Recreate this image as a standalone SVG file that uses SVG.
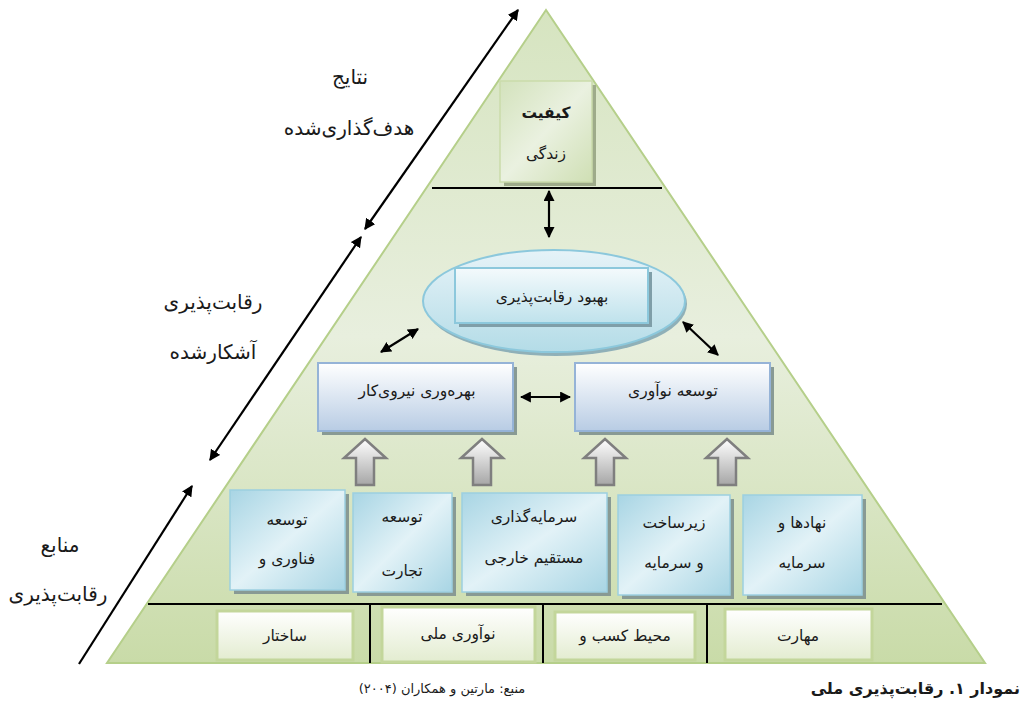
<svg xmlns="http://www.w3.org/2000/svg" width="1025" height="704" viewBox="0 0 1025 704">
<style>
.t{font-family:"DejaVu Sans",sans-serif;font-size:15.5px;fill:#1a1a1a;direction:rtl;text-anchor:middle}
.lbl{font-family:"DejaVu Sans",sans-serif;font-size:20px;fill:#1a1a1a;direction:rtl;text-anchor:middle}
.blk{stroke:#000;stroke-width:2.2;fill:none}
.sep{stroke:#000;stroke-width:2;fill:none}
.sh{fill:#889a94}
.shg{fill:#9eab8a}
.blue{fill:url(#gBlue);stroke:#95b3d7;stroke-width:2}
.teal{fill:url(#gTeal);stroke:#9ccfe0;stroke-width:1.5}
.grn{fill:url(#gGrn);stroke:#c3d69b;stroke-width:3}
.barr{fill:url(#gArr);stroke:#7f7f7f;stroke-width:2.5}
</style>
<defs>
<linearGradient id="gTri" x1="0" y1="0" x2="0" y2="1">
<stop offset="0" stop-color="#d6e4c0"/>
<stop offset="0.5" stop-color="#e8efde"/>
<stop offset="1" stop-color="#c9dba8"/>
</linearGradient>
<linearGradient id="gTop" x1="0" y1="0" x2="1" y2="1">
<stop offset="0" stop-color="#d3e2bc"/>
<stop offset="0.5" stop-color="#eaf1e0"/>
<stop offset="1" stop-color="#cfdfb4"/>
</linearGradient>
<linearGradient id="gEll" x1="0" y1="0" x2="0" y2="1">
<stop offset="0" stop-color="#e6f3f8"/>
<stop offset="1" stop-color="#b4dce7"/>
</linearGradient>
<linearGradient id="gInner" x1="0" y1="0" x2="0" y2="1">
<stop offset="0" stop-color="#f4fafc"/>
<stop offset="1" stop-color="#bfe2ec"/>
</linearGradient>
<linearGradient id="gBlue" x1="0" y1="0" x2="0" y2="1">
<stop offset="0" stop-color="#ffffff"/>
<stop offset="1" stop-color="#b8cce4"/>
</linearGradient>
<linearGradient id="gTeal" x1="0" y1="0" x2="1" y2="1">
<stop offset="0" stop-color="#a8d5e4"/>
<stop offset="0.5" stop-color="#e2f2f7"/>
<stop offset="1" stop-color="#a8d5e4"/>
</linearGradient>
<linearGradient id="gGrn" x1="0" y1="0" x2="0" y2="1">
<stop offset="0" stop-color="#ffffff"/>
<stop offset="1" stop-color="#e3ecd0"/>
</linearGradient>
<linearGradient id="gArr" x1="0" y1="0" x2="0" y2="1">
<stop offset="0" stop-color="#ffffff"/>
<stop offset="1" stop-color="#a6a6a6"/>
</linearGradient>
<marker id="ah" viewBox="0 0 10 10" refX="9" refY="5" markerWidth="5" markerHeight="5" orient="auto-start-reverse">
<path d="M0,0 L10,5 L0,10 Z" fill="#000"/>
</marker>
</defs>

<g id="pyramid">
<polygon points="546,10 107,663 985,663" fill="url(#gTri)" stroke="#b5cf8a" stroke-width="2"/>
<line class="sep" x1="432" y1="188" x2="662" y2="188"/>
<line class="sep" x1="148" y1="604" x2="942" y2="604"/>
<line class="sep" x1="370" y1="604" x2="370" y2="663"/>
<line class="sep" x1="543" y1="604" x2="543" y2="663"/>
<line class="sep" x1="707" y1="604" x2="707" y2="663"/>
</g>

<g id="connectors">
<line class="blk" x1="365" y1="229" x2="518" y2="10" marker-start="url(#ah)" marker-end="url(#ah)"/>
<line class="blk" x1="210" y1="460" x2="361" y2="237" marker-start="url(#ah)" marker-end="url(#ah)"/>
<line class="blk" x1="79" y1="664" x2="192" y2="486" marker-end="url(#ah)"/>
<line class="blk" x1="549" y1="191" x2="549" y2="237" marker-start="url(#ah)" marker-end="url(#ah)"/>
<line class="blk" x1="381" y1="352" x2="418" y2="329" marker-start="url(#ah)" marker-end="url(#ah)"/>
<line class="blk" x1="683" y1="322" x2="718" y2="355" marker-start="url(#ah)" marker-end="url(#ah)"/>
<line class="blk" x1="521" y1="397" x2="570" y2="397" marker-start="url(#ah)" marker-end="url(#ah)"/>
<path class="barr" d="M365,439 L386,458 L374,458 L374,485 L356,485 L356,458 L344,458 Z"/>
<path class="barr" d="M482,439 L503,458 L491,458 L491,485 L473,485 L473,458 L461,458 Z"/>
<path class="barr" d="M605,439 L626,458 L614,458 L614,485 L596,485 L596,458 L584,458 Z"/>
<path class="barr" d="M727,439 L748,458 L736,458 L736,485 L718,485 L718,458 L706,458 Z"/>
</g>

<g id="n-quality">
<rect class="shg" x="504" y="85" width="92" height="101"/>
<rect x="500" y="81" width="92" height="101" fill="url(#gTop)" stroke="#cadbab" stroke-width="1.5"/>
<text class="t" x="546" y="118" style="font-weight:bold">کیفیت</text>
<text class="t" x="546" y="159">زندگی</text>
</g>

<g id="n-improve">
<ellipse cx="556" cy="304" rx="131" ry="52" fill="#8fb0b8"/>
<ellipse cx="554" cy="301" rx="131" ry="51" fill="url(#gEll)" stroke="#8cc8dc" stroke-width="2"/>
<rect x="459" y="272" width="193" height="55" fill="#7f9ea8"/>
<rect x="455" y="268" width="193" height="55" fill="url(#gInner)" stroke="#8cc8dc" stroke-width="2"/>
<text class="t" x="552" y="302">بهبود رقابت‌پذیری</text>
</g>

<g id="n-labor">
<rect class="sh" x="322" y="367" width="195" height="68"/>
<rect class="blue" x="318" y="363" width="195" height="68"/>
<text class="t" x="417" y="396">بهره‌وری نیروی‌کار</text>
</g>

<g id="n-innov">
<rect class="sh" x="579" y="367" width="195" height="68"/>
<rect class="blue" x="575" y="363" width="195" height="68"/>
<text class="t" x="673" y="396">توسعه نوآوری</text>
</g>

<g id="n-tech">
<rect class="sh" x="234" y="494" width="115" height="100"/>
<rect class="teal" x="230" y="490" width="115" height="100"/>
<text class="t" x="287" y="525">توسعه</text>
<text class="t" x="287" y="564">فناوری و</text>
</g>

<g id="n-trade">
<rect class="sh" x="357" y="497" width="99" height="99"/>
<rect class="teal" x="353" y="493" width="99" height="99"/>
<text class="t" x="402" y="522">توسعه</text>
<text class="t" x="402" y="576">تجارت</text>
</g>

<g id="n-fdi">
<rect class="sh" x="466" y="497" width="145" height="99"/>
<rect class="teal" x="462" y="493" width="145" height="99"/>
<text class="t" x="534" y="522">سرمایه‌گذاری</text>
<text class="t" x="534" y="563">مستقیم خارجی</text>
</g>

<g id="n-infra">
<rect class="sh" x="622" y="499" width="112" height="100"/>
<rect class="teal" x="618" y="495" width="112" height="100"/>
<text class="t" x="674" y="528">زیرساخت</text>
<text class="t" x="674" y="568">و سرمایه</text>
</g>

<g id="n-inst">
<rect class="sh" x="747" y="499" width="119" height="100"/>
<rect class="teal" x="743" y="495" width="119" height="100"/>
<text class="t" x="802" y="528">نهادها و</text>
<text class="t" x="802" y="568">سرمایه</text>
</g>

<g id="n-struct">
<rect class="grn" x="217" y="611" width="136" height="49"/>
<text class="t" x="285" y="641">ساختار</text>
</g>

<g id="n-natinnov">
<rect class="grn" x="382" y="607" width="153" height="55"/>
<text class="t" x="458" y="639">نوآوری ملی</text>
</g>

<g id="n-business">
<rect class="grn" x="555" y="612" width="140" height="48"/>
<text class="t" x="625" y="641">محیط کسب و</text>
</g>

<g id="n-skill">
<rect class="grn" x="725" y="609" width="147" height="51"/>
<text class="t" x="798" y="641">مهارت</text>
</g>

<g id="side-labels">
<text class="lbl" x="350" y="84">نتایج</text>
<text class="lbl" x="349" y="135">هدف‌گذاری‌شده</text>
<text class="lbl" x="213" y="309">رقابت‌پذیری</text>
<text class="lbl" x="213" y="359">آشکارشده</text>
<text class="lbl" x="60" y="552">منابع</text>
<text class="lbl" x="58" y="601">رقابت‌پذیری</text>
</g>

<g id="caption">
<text class="t" x="1020" y="694" style="text-anchor:start;font-weight:bold;font-size:16px">نمودار ۱. رقابت‌پذیری ملی</text>
<text class="t" x="442" y="693" style="font-size:13px">منبع: مارتین و همکاران (۲۰۰۴)</text>
</g>
</svg>
